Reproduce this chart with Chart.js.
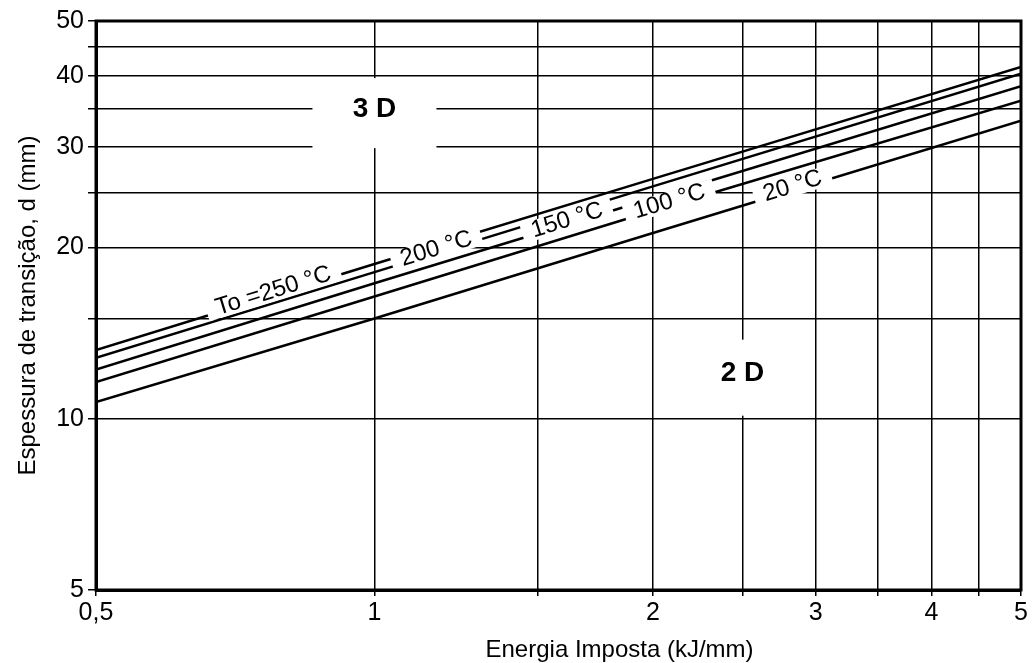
<!DOCTYPE html>
<html>
<head>
<meta charset="utf-8">
<script src="https://cdn.jsdelivr.net/npm/chart.js@4/dist/chart.umd.min.js"></script>
<style>
  html, body { margin: 0; padding: 0; background: #fff; }
</style>
</head>
<body>
<canvas id="transChart" width="1035" height="663"></canvas>
<script>
// Energy input (kJ/mm) and transition thickness d (mm) per preheat temperature
const energy = [0.5, 1, 2, 5];
const d250 = [13.2, 18.7, 26.4, 41.5];
const d200 = [12.8, 18.1, 25.6, 40.4];
const d150 = [12.2, 17.3, 24.4, 38.4];
const d100 = [11.6, 16.4, 23.2, 36.2];
const d20  = [10.7, 15.0, 21.2, 33.4];

const seriesNames = ['To =250 °C', '200 °C', '150 °C', '100 °C', '20 °C'];
const labelAt = [0.78, 1.17, 1.62, 2.09, 2.84]; // x value where each curve is labelled

const xTicks = [0.5, 1, 1.5, 2, 2.5, 3, 3.5, 4, 4.5, 5];
const xTickLabels = ['0,5', '1', '', '2', '', '3', '', '4', '', '5'];
const yTicks = [5, 10, 15, 20, 25, 30, 35, 40, 45, 50];
const yTickLabels = ['5', '10', '', '20', '', '30', '', '40', '', '50'];

const regions = [
    { text: '3 D', x: 1.0, y: 35, w: 124, h: 70 },
    { text: '2 D', x: 2.5, y: 12, w: 100, h: 76 }
];

const FONT = "'Liberation Sans', Arial, sans-serif";
const allSeries = [d250, d200, d150, d100, d20];

const curveLabels = {
    id: 'curveLabels',
    afterDatasetsDraw(chart) {
        const ctx = chart.ctx;
        const xs = chart.scales.x, ys = chart.scales.y;
        ctx.save();
        // region labels
        regions.forEach(r => {
            const px = xs.getPixelForValue(r.x), py = ys.getPixelForValue(r.y);
            ctx.fillStyle = '#fff';
            ctx.fillRect(px - r.w / 2, py - r.h / 2 + 4, r.w, r.h);
            ctx.fillStyle = '#000';
            ctx.font = 'bold 28px ' + FONT;
            ctx.textAlign = 'center';
            ctx.textBaseline = 'middle';
            ctx.fillText(r.text, px, py);
        });
        // labels sitting on the curves
        seriesNames.forEach((name, i) => {
            const pts = chart.getDatasetMeta(i).data;
            const px = xs.getPixelForValue(labelAt[i]);
            let k = 0;
            while (k < pts.length - 2 && pts[k + 1].x < px) k++;
            const a = pts[k], b = pts[k + 1];
            const t = (px - a.x) / (b.x - a.x);
            const py = a.y + t * (b.y - a.y);
            const ang = Math.atan2(b.y - a.y, b.x - a.x);
            ctx.save();
            ctx.translate(px, py);
            ctx.rotate(ang);
            ctx.translate(0, -4);
            ctx.font = '24px ' + FONT;
            const w = ctx.measureText(name).width;
            ctx.fillStyle = '#fff';
            ctx.fillRect(-w / 2 - 10, -10, w + 20, 20);
            ctx.fillStyle = '#000';
            ctx.textAlign = 'center';
            ctx.textBaseline = 'middle';
            ctx.fillText(name, 0, 0);
            ctx.restore();
        });
        ctx.restore();
    },
    afterDraw(chart) {
        const ctx = chart.ctx;
        const a = chart.chartArea;
        ctx.save();
        ctx.strokeStyle = '#000';
        ctx.lineWidth = 3;
        ctx.strokeRect(a.left, a.top, a.right - a.left, a.bottom - a.top);
        // x axis title, set right of centre as in the original
        ctx.fillStyle = '#000';
        ctx.font = '24px ' + FONT;
        ctx.textAlign = 'center';
        ctx.textBaseline = 'middle';
        ctx.fillText('Energia Imposta (kJ/mm)', a.left + (a.right - a.left) * 0.566, 650);
        ctx.restore();
    }
};

const ctx = document.getElementById('transChart').getContext('2d');
new Chart(ctx, {
    type: 'line',
    data: {
        datasets: allSeries.map((vals, i) => ({
            label: seriesNames[i],
            data: energy.map((e, j) => ({ x: e, y: vals[j] })),
            borderColor: '#000',
            borderWidth: 2.5,
            pointRadius: 0,
            fill: false,
            tension: 0
        }))
    },
    plugins: [curveLabels],
    options: {
        responsive: false,
        animation: false,
        layout: { padding: { top: 21, right: 14, left: 0, bottom: 0 } },
        plugins: {
            legend: { display: false },
            tooltip: { enabled: false }
        },
        scales: {
            x: {
                type: 'logarithmic',
                min: 0.5,
                max: 5,
                afterBuildTicks: s => { s.ticks = xTicks.map(v => ({ value: v })); },
                afterFit: s => { s.height = 73; },
                ticks: {
                    autoSkip: false,
                    maxRotation: 0,
                    padding: 5,
                    color: '#000',
                    font: { family: FONT, size: 25, lineHeight: 1 },
                    callback: (v, i) => xTickLabels[i]
                },
                grid: { color: '#000', lineWidth: 1.5, tickLength: 6 },
                border: { color: '#000', width: 3 }
            },
            y: {
                type: 'logarithmic',
                min: 5,
                max: 50,
                afterBuildTicks: s => { s.ticks = yTicks.map(v => ({ value: v })); },
                afterFit: s => { s.width = 96; },
                ticks: {
                    autoSkip: false,
                    padding: 4,
                    color: '#000',
                    font: { family: FONT, size: 25, lineHeight: 1 },
                    callback: (v, i) => yTickLabels[i]
                },
                grid: { color: '#000', lineWidth: 1.5, tickLength: 8 },
                border: { color: '#000', width: 3 },
                title: {
                    display: true,
                    text: 'Espessura de transição, d (mm)',
                    color: '#000',
                    font: { family: FONT, size: 24, lineHeight: 1 },
                    padding: { top: 16, bottom: 0 }
                }
            }
        }
    }
});
</script>
</body>
</html>
